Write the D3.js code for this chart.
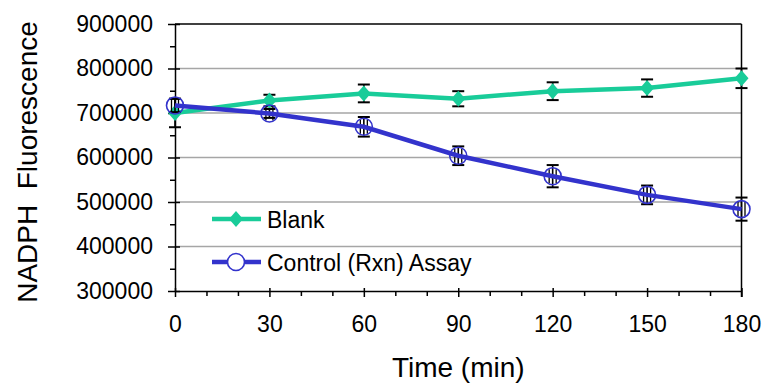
<!DOCTYPE html>
<html>
<head>
<meta charset="utf-8">
<script src="https://cdn.jsdelivr.net/npm/d3@7"></script>
<style>
  body { margin: 0; background: #fff; }
  svg { display: block; font-family: "Liberation Sans", Arial, sans-serif; }
</style>
</head>
<body>
<div class="container"></div>
<script>
const times = [0, 30, 60, 90, 120, 150, 180];
const blank = [700000, 728000, 744000, 732000, 749000, 756000, 778000];
const blankErr = [32000, 13000, 20000, 17000, 20000, 19500, 22000];
const control = [717000, 699000, 669000, 604000, 558000, 516000, 484000];
const controlErr = [15000, 10000, 22000, 21000, 25000, 21000, 26000];
const yTicks = [300000, 400000, 500000, 600000, 700000, 800000, 900000];
const xTicks = [0, 30, 60, 90, 120, 150, 180];

const w = 764, h = 384;
const green = "#19cc99", blue = "#3333cc";

const xScale = d3.scaleLinear().domain([0, 180]).range([175, 741.5]);
const yScale = d3.scaleLinear().domain([300000, 900000]).range([291, 24]);

const svg = d3.select(".container").append("svg")
  .attr("width", w).attr("height", h);

// gridlines
svg.append("g")
  .selectAll("line")
  .data(yTicks.filter(d => d > 300000 && d < 900000))
  .enter().append("line")
  .attr("x1", xScale(0)).attr("x2", xScale(180))
  .attr("y1", d => yScale(d)).attr("y2", d => yScale(d))
  .attr("stroke", "#a6a6a6").attr("stroke-width", 1.5);

// top and right border
svg.append("line")
  .attr("x1", xScale(0)).attr("x2", xScale(180))
  .attr("y1", yScale(900000)).attr("y2", yScale(900000))
  .attr("stroke", "#000").attr("stroke-width", 1.5);
svg.append("line")
  .attr("x1", xScale(180)).attr("x2", xScale(180))
  .attr("y1", yScale(900000)).attr("y2", yScale(300000) + 6)
  .attr("stroke", "#000").attr("stroke-width", 1.5);

// y axis
const yAxis = d3.axisLeft(yScale).tickValues(yTicks).tickSize(7).tickSizeOuter(0).tickPadding(15)
  .tickFormat(d3.format("d"));
const gy = svg.append("g").attr("transform", "translate(" + xScale(0) + ",0)").call(yAxis);
const yMinor = d3.axisLeft(yScale).tickValues(d3.range(350000, 900000, 100000)).tickSize(5).tickFormat("");
svg.append("g").attr("transform", "translate(" + xScale(0) + ",0)").call(yMinor)
  .select(".domain").remove();

// x axis
const xAxis = d3.axisBottom(xScale).tickValues(xTicks).tickSize(6).tickSizeOuter(0).tickPadding(19);
const gx = svg.append("g").attr("transform", "translate(0," + yScale(300000) + ")").call(xAxis);
const xMinor = d3.axisBottom(xScale).tickValues(d3.range(10, 180, 10).filter(d => d % 30 !== 0)).tickSize(5).tickFormat("");
svg.append("g").attr("transform", "translate(0," + yScale(300000) + ")").call(xMinor)
  .select(".domain").remove();

svg.selectAll(".domain").attr("stroke", "#000").attr("stroke-width", 1.5);
svg.selectAll(".tick line").attr("stroke", "#000").attr("stroke-width", 1.5);
gy.selectAll(".tick line").attr("x2", 5).attr("x1", -7);
gy.selectAll(".tick text").attr("font-size", 23).attr("fill", "#000").attr("font-family", "Liberation Sans, Arial, sans-serif");
gx.selectAll(".tick line").attr("y1", -3).attr("y2", 6);
gx.selectAll(".tick text").attr("font-size", 23).attr("fill", "#000").attr("font-family", "Liberation Sans, Arial, sans-serif");

// axis titles
svg.append("text")
  .attr("x", xScale(90)).attr("y", 377)
  .attr("text-anchor", "middle").attr("font-size", 28)
  .text("Time (min)");
svg.append("text")
  .attr("transform", "translate(37," + 162 + ") rotate(-90)")
  .attr("text-anchor", "middle").attr("font-size", 28)
  .style("white-space", "pre")
  .text("NADPH  Fluorescence");

const diamond = (cx, cy) => "M" + cx + "," + (cy - 8) + "L" + (cx + 7) + "," + cy + "L" + cx + "," + (cy + 8) + "L" + (cx - 7) + "," + cy + "Z";

const blankData = times.map((t, i) => ({ t: t, v: blank[i], e: blankErr[i] }));
const controlData = times.map((t, i) => ({ t: t, v: control[i], e: controlErr[i] }));

function errorBars(data) {
  const g = svg.append("g").attr("stroke", "#000").attr("stroke-width", 1.6);
  data.forEach(d => {
    const x = xScale(d.t);
    g.append("line").attr("x1", x).attr("x2", x).attr("y1", yScale(d.v + d.e)).attr("y2", yScale(d.v - d.e));
    g.append("line").attr("x1", x - 6).attr("x2", x + 6).attr("y1", yScale(d.v + d.e)).attr("y2", yScale(d.v + d.e)).attr("stroke-width", 2);
    g.append("line").attr("x1", x - 6).attr("x2", x + 6).attr("y1", yScale(d.v - d.e)).attr("y2", yScale(d.v - d.e)).attr("stroke-width", 2);
  });
  return g;
}

const line = d3.line().x(d => xScale(d.t)).y(d => yScale(d.v));

// Blank series
errorBars(blankData);
svg.append("path").datum(blankData).attr("d", line)
  .attr("fill", "none").attr("stroke", green).attr("stroke-width", 4.5);
svg.append("g").selectAll("path").data(blankData).enter().append("path")
  .attr("d", d => diamond(xScale(d.t), yScale(d.v))).attr("fill", green);

// Control series
const ce = errorBars(controlData);
controlData.forEach(d => {
  const x = xScale(d.t), y = yScale(d.v);
  [-3.5, 3.5].forEach(dx => {
    ce.append("line").attr("x1", x + dx).attr("x2", x + dx).attr("y1", y - 7).attr("y2", y + 7).attr("stroke-width", 1.3);
  });
});
svg.append("path").datum(controlData).attr("d", line)
  .attr("fill", "none").attr("stroke", blue).attr("stroke-width", 4.5);
svg.append("g").selectAll("circle").data(controlData).enter().append("circle")
  .attr("cx", d => xScale(d.t)).attr("cy", d => yScale(d.v)).attr("r", 8.5)
  .attr("fill", "none").attr("stroke", blue).attr("stroke-width", 1.6);

// legend
const legend = svg.append("g");
legend.append("line").attr("x1", 212).attr("x2", 261).attr("y1", 219).attr("y2", 219)
  .attr("stroke", green).attr("stroke-width", 4.5);
legend.append("path").attr("d", diamond(236, 219)).attr("fill", green);
legend.append("text").attr("x", 267).attr("y", 227.5).attr("font-size", 23).text("Blank");
legend.append("line").attr("x1", 212).attr("x2", 261).attr("y1", 262).attr("y2", 262)
  .attr("stroke", blue).attr("stroke-width", 4.5);
legend.append("circle").attr("cx", 236).attr("cy", 262).attr("r", 8.5)
  .attr("fill", "#fff").attr("stroke", blue).attr("stroke-width", 1.6);
legend.append("text").attr("x", 267).attr("y", 270.5).attr("font-size", 23).text("Control (Rxn) Assay");
</script>
</body>
</html>
